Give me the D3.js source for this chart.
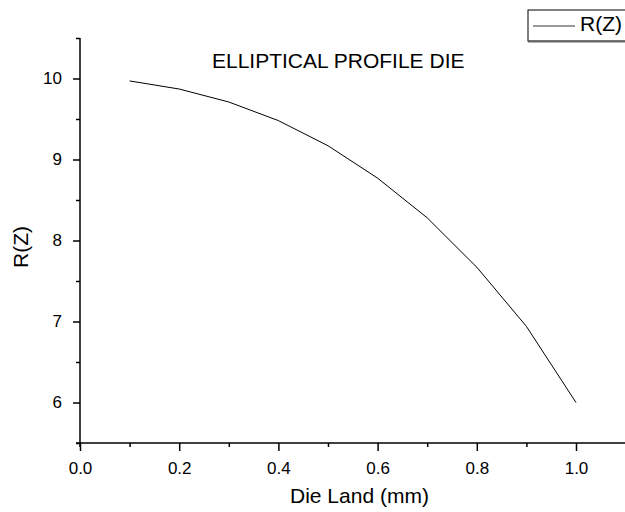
<!DOCTYPE html>
<html>
<head>
<meta charset="utf-8">
<script src="https://cdn.jsdelivr.net/npm/d3@7"></script>
<style>
  html, body { margin: 0; padding: 0; background: #fff; }
  svg { display: block; font-family: "Liberation Sans", Arial, sans-serif; }
</style>
</head>
<body>
<svg id="chart" width="625" height="512"></svg>
<script>
// Data
const dieLand = [0.1, 0.2, 0.3, 0.4, 0.5, 0.6, 0.7, 0.8, 0.9, 1.0];
const rValues = [9.97, 9.87, 9.71, 9.48, 9.17, 8.77, 8.28, 7.67, 6.94, 6.00];
const xMajorTicks = [0.0, 0.2, 0.4, 0.6, 0.8, 1.0];
const xMinorTicks = [0.1, 0.3, 0.5, 0.7, 0.9, 1.1];
const yMajorTicks = [6, 7, 8, 9, 10];
const yMinorTicks = [5.5, 6.5, 7.5, 8.5, 9.5, 10.5];
const titleText = "ELLIPTICAL PROFILE DIE";
const xLabel = "Die Land (mm)";
const yLabel = "R(Z)";
const seriesName = "R(Z)";

const svg = d3.select("#chart");
const x = d3.scaleLinear().domain([0, 1.1]).range([80, 625.6]);
const y = d3.scaleLinear().domain([5.5, 10.5]).range([443, 38]);

// X axis
const xAxisG = svg.append("g").attr("transform", `translate(0,${y(5.5)})`);
xAxisG.call(d3.axisBottom(x).tickValues(xMajorTicks).tickSize(8).tickPadding(10.5)
  .tickFormat(d3.format(".1f")));
xAxisG.append("g").call(d3.axisBottom(x).tickValues(xMinorTicks).tickSize(4).tickFormat(""))
  .select(".domain").remove();
xAxisG.select(".domain").attr("d", `M${x(0) - 4},0H625`);

// Y axis
const yAxisG = svg.append("g").attr("transform", `translate(${x(0)},0)`);
yAxisG.call(d3.axisLeft(y).tickValues(yMajorTicks).tickSize(7).tickPadding(11)
  .tickFormat(d3.format("d")));
yAxisG.append("g").call(d3.axisLeft(y).tickValues(yMinorTicks).tickSize(4).tickFormat(""))
  .select(".domain").remove();
yAxisG.select(".domain").attr("d", `M0,${y(10.5)}V${y(5.5) + 4}`);

svg.selectAll(".domain, .tick line").attr("stroke", "#000").attr("stroke-width", 1.5);
svg.selectAll(".tick text").attr("font-size", 17).attr("fill", "#000")
  .attr("font-family", "'Liberation Sans', Arial, sans-serif");

// Data line
const line = d3.line().x((d, i) => x(dieLand[i])).y(d => y(d));
svg.append("path").datum(rValues)
  .attr("d", line).attr("fill", "none").attr("stroke", "#000").attr("stroke-width", 1);

// Title
svg.append("text").attr("x", 212).attr("y", 68).attr("font-size", 21)
  .attr("fill", "#000").text(titleText);

// Axis labels
svg.append("text").attr("x", 290).attr("y", 503).attr("font-size", 21)
  .attr("fill", "#000").text(xLabel);
svg.append("text").attr("transform", "translate(28,247) rotate(-90)")
  .attr("text-anchor", "middle").attr("font-size", 21).attr("fill", "#000").text(yLabel);

// Legend
const lg = svg.append("g");
lg.append("rect").attr("x", 528).attr("y", 10).attr("width", 110).attr("height", 31)
  .attr("fill", "#fff").attr("stroke", "#000").attr("stroke-width", 1);
lg.append("line").attr("x1", 528).attr("x2", 640).attr("y1", 41.5).attr("y2", 41.5)
  .attr("stroke", "#666").attr("stroke-width", 2);
lg.append("line").attr("x1", 533).attr("x2", 575).attr("y1", 26).attr("y2", 26)
  .attr("stroke", "#333").attr("stroke-width", 1);
lg.append("text").attr("x", 580).attr("y", 30.5).attr("font-size", 21)
  .attr("fill", "#000").text(seriesName);
</script>
</body>
</html>
